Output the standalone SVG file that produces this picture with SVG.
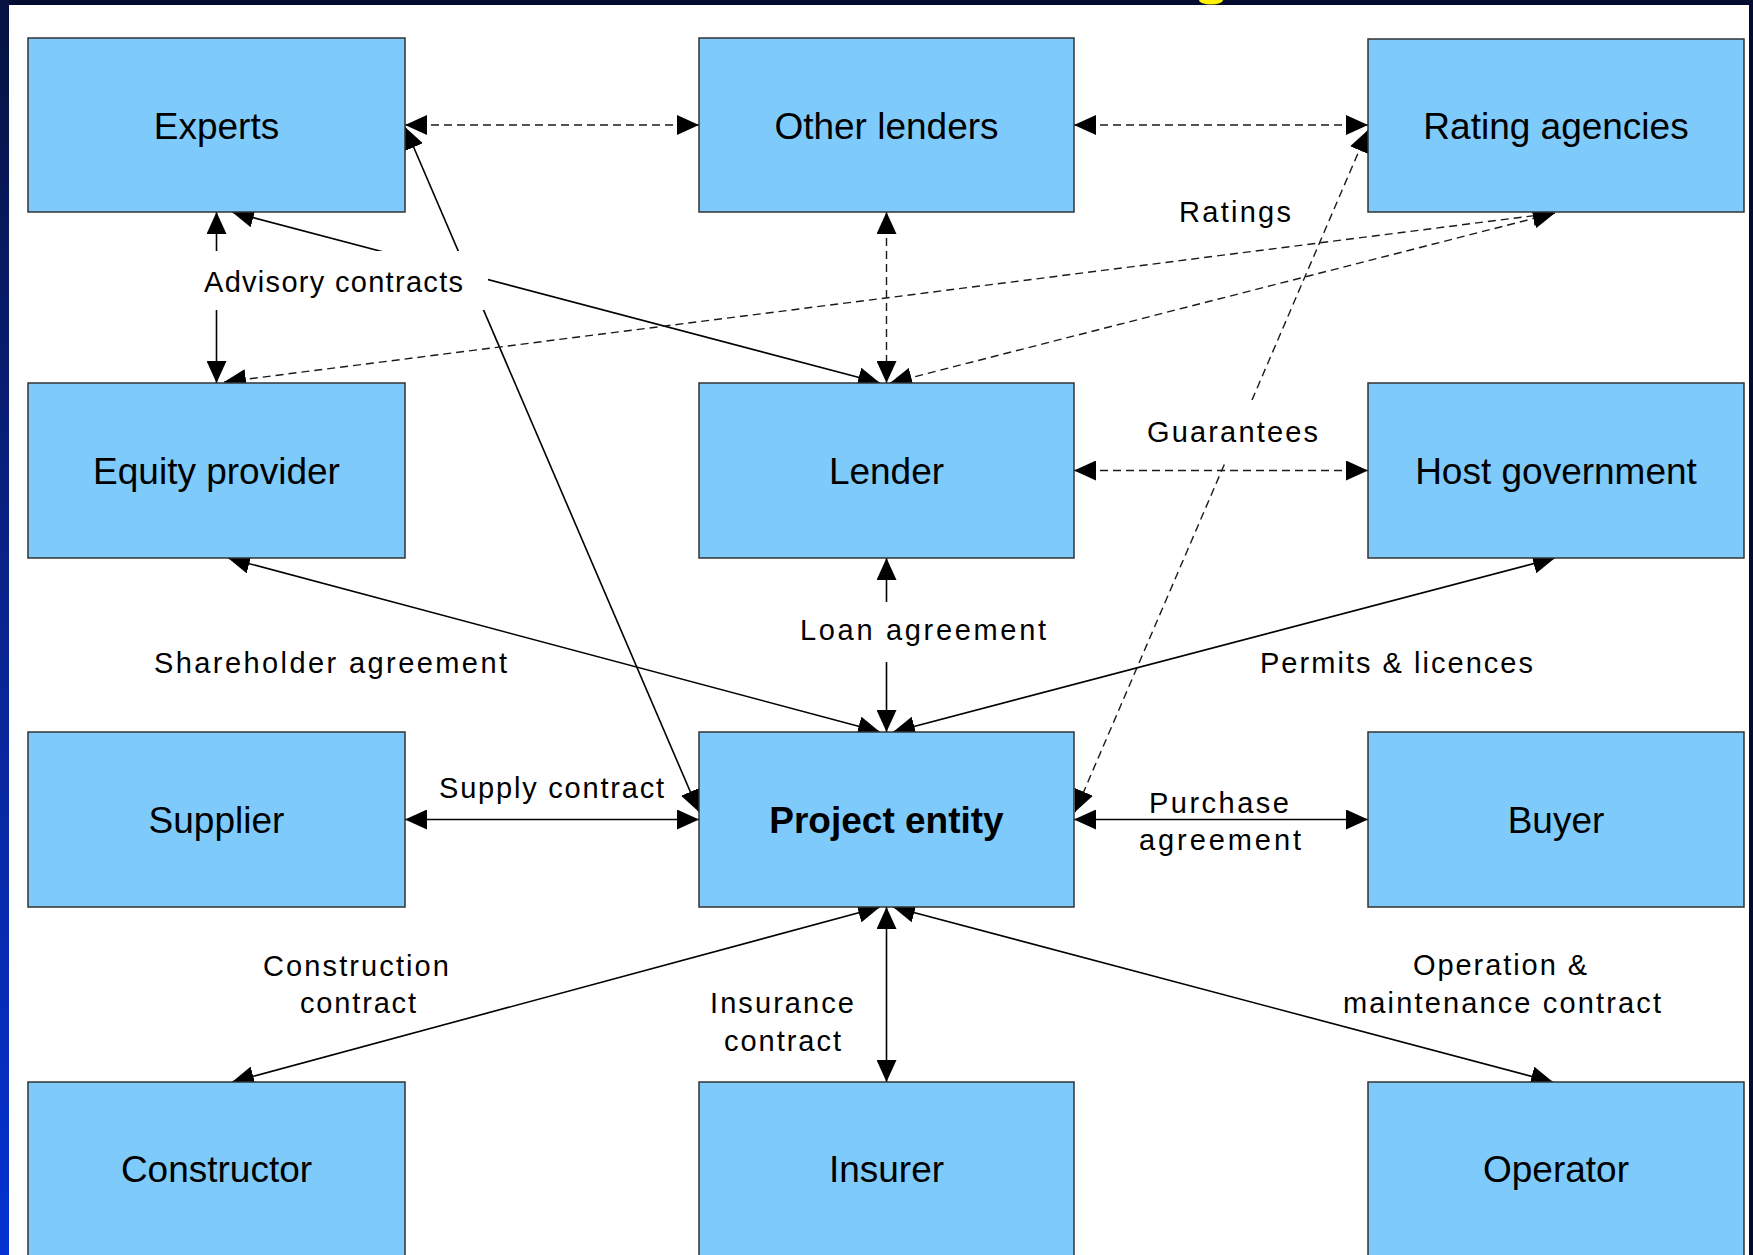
<svg xmlns="http://www.w3.org/2000/svg" width="1753" height="1255" viewBox="0 0 1753 1255">
  <defs>
    <linearGradient id="leftStrip" x1="0" y1="0" x2="0" y2="1">
      <stop offset="0" stop-color="#06123f"/>
      <stop offset="0.5" stop-color="#0a2490"/>
      <stop offset="1" stop-color="#0432d2"/>
    </linearGradient>
    <marker id="arr" viewBox="0 0 22 20" refX="22" refY="10" markerWidth="22" markerHeight="20" markerUnits="userSpaceOnUse" orient="auto-start-reverse">
      <path d="M0,0 L22,10 L0,20 Z" fill="#000"/>
    </marker>
    <style>
      .box { fill: #7ecbfb; stroke: #333; stroke-width: 1.5; }
      .nt { font-family: "Liberation Sans", Arial, sans-serif; font-size: 37px; fill: #000; text-anchor: middle; }
      .bold { font-weight: bold; }
      .lbl { font-family: "Liberation Sans", Arial, sans-serif; font-size: 29px; fill: #000; text-anchor: middle; }
      .solid { stroke: #000; stroke-width: 1.6; fill: none; marker-start: url(#arr); marker-end: url(#arr); }
      .dash { stroke: #1a1a1a; stroke-width: 1.4; stroke-dasharray: 8 5; fill: none; marker-start: url(#arr); marker-end: url(#arr); }
      .bg { fill: #fff; }
    </style>
  </defs>

  <!-- background frame -->
  <rect x="0" y="0" width="1753" height="1255" fill="#030b30"/>
  <rect x="0" y="0" width="9" height="1255" fill="url(#leftStrip)"/>
  <rect x="9" y="5" width="1740" height="1250" fill="#fff"/>
  <ellipse cx="1211" cy="0" rx="12" ry="4.5" fill="#fff200"/>

  <!-- connectors -->
  <g id="connectors">
    <path class="dash" d="M405,125 L699,125"/>
    <path class="dash" d="M1074,125 L1368,125"/>
    <path class="dash" d="M886.5,212 L886.5,383"/>
    <path class="solid" d="M216.5,212 L216.5,383"/>
    <path class="solid" d="M232,212 L880,383"/>
    <path class="solid" d="M405,127 L699,812"/>
    <path class="dash" d="M224,382 L1555,213"/>
    <path class="dash" d="M890,383 L1555,213"/>
    <path class="dash" d="M1368,130 L1075,812"/>
    <path class="dash" d="M1074,470.5 L1368,470.5"/>
    <path class="solid" d="M886.5,558 L886.5,732"/>
    <path class="solid" d="M228,558 L880,732"/>
    <path class="solid" d="M1555,558 L893,732"/>
    <path class="solid" d="M405,819.5 L699,819.5"/>
    <path class="solid" d="M1074,819.5 L1368,819.5"/>
    <path class="solid" d="M880,907 L232,1082"/>
    <path class="solid" d="M886.5,907 L886.5,1082"/>
    <path class="solid" d="M893,907 L1553,1082"/>
  </g>

  <!-- connector labels -->
  <g id="labels">
    <rect class="bg" x="196" y="251" width="292" height="59"/>
    <text class="lbl" x="333.5" y="292" textLength="259" lengthAdjust="spacing">Advisory contracts</text>
    <text class="lbl" x="1235" y="222" textLength="112" lengthAdjust="spacing">Ratings</text>
    <rect class="bg" x="1140" y="400" width="185" height="60"/>
    <text class="lbl" x="1232.5" y="442" textLength="171" lengthAdjust="spacing">Guarantees</text>
    <rect class="bg" x="792" y="602" width="262" height="60"/>
    <text class="lbl" x="923" y="640" textLength="246" lengthAdjust="spacing">Loan agreement</text>
    <text class="lbl" x="330.5" y="673" textLength="353" lengthAdjust="spacing">Shareholder agreement</text>
    <text class="lbl" x="1396.5" y="673" textLength="273" lengthAdjust="spacing">Permits &amp; licences</text>
    <text class="lbl" x="551.5" y="798" textLength="225" lengthAdjust="spacing">Supply contract</text>
    <text class="lbl" x="1219" y="813" textLength="140" lengthAdjust="spacing">Purchase</text>
    <text class="lbl" x="1220" y="850" textLength="162" lengthAdjust="spacing">agreement</text>
    <text class="lbl" x="356" y="976" textLength="186" lengthAdjust="spacing">Construction</text>
    <text class="lbl" x="358" y="1013" textLength="116" lengthAdjust="spacing">contract</text>
    <text class="lbl" x="782" y="1013" textLength="144" lengthAdjust="spacing">Insurance</text>
    <text class="lbl" x="782.5" y="1051" textLength="117" lengthAdjust="spacing">contract</text>
    <text class="lbl" x="1500" y="975" textLength="174" lengthAdjust="spacing">Operation &amp;</text>
    <text class="lbl" x="1502" y="1013" textLength="318" lengthAdjust="spacing">maintenance contract</text>
  </g>

  <!-- nodes -->
  <g id="experts">
    <rect class="box" x="28" y="38" width="377" height="174"/>
    <text class="nt" x="216.5" y="138.5">Experts</text>
  </g>
  <g id="other-lenders">
    <rect class="box" x="699" y="38" width="375" height="174"/>
    <text class="nt" x="886.5" y="138.5">Other lenders</text>
  </g>
  <g id="rating-agencies">
    <rect class="box" x="1368" y="39" width="376" height="173"/>
    <text class="nt" x="1556" y="138.5">Rating agencies</text>
  </g>
  <g id="equity-provider">
    <rect class="box" x="28" y="383" width="377" height="175"/>
    <text class="nt" x="216.5" y="484">Equity provider</text>
  </g>
  <g id="lender">
    <rect class="box" x="699" y="383" width="375" height="175"/>
    <text class="nt" x="886.5" y="484">Lender</text>
  </g>
  <g id="host-government">
    <rect class="box" x="1368" y="383" width="376" height="175"/>
    <text class="nt" x="1556" y="484">Host government</text>
  </g>
  <g id="supplier">
    <rect class="box" x="28" y="732" width="377" height="175"/>
    <text class="nt" x="216.5" y="833">Supplier</text>
  </g>
  <g id="project-entity">
    <rect class="box" x="699" y="732" width="375" height="175"/>
    <text class="nt bold" x="886.5" y="833">Project entity</text>
  </g>
  <g id="buyer">
    <rect class="box" x="1368" y="732" width="376" height="175"/>
    <text class="nt" x="1556" y="833">Buyer</text>
  </g>
  <g id="constructor">
    <rect class="box" x="28" y="1082" width="377" height="185"/>
    <text class="nt" x="216.5" y="1182">Constructor</text>
  </g>
  <g id="insurer">
    <rect class="box" x="699" y="1082" width="375" height="185"/>
    <text class="nt" x="886.5" y="1182">Insurer</text>
  </g>
  <g id="operator">
    <rect class="box" x="1368" y="1082" width="376" height="185"/>
    <text class="nt" x="1556" y="1182">Operator</text>
  </g>
</svg>
